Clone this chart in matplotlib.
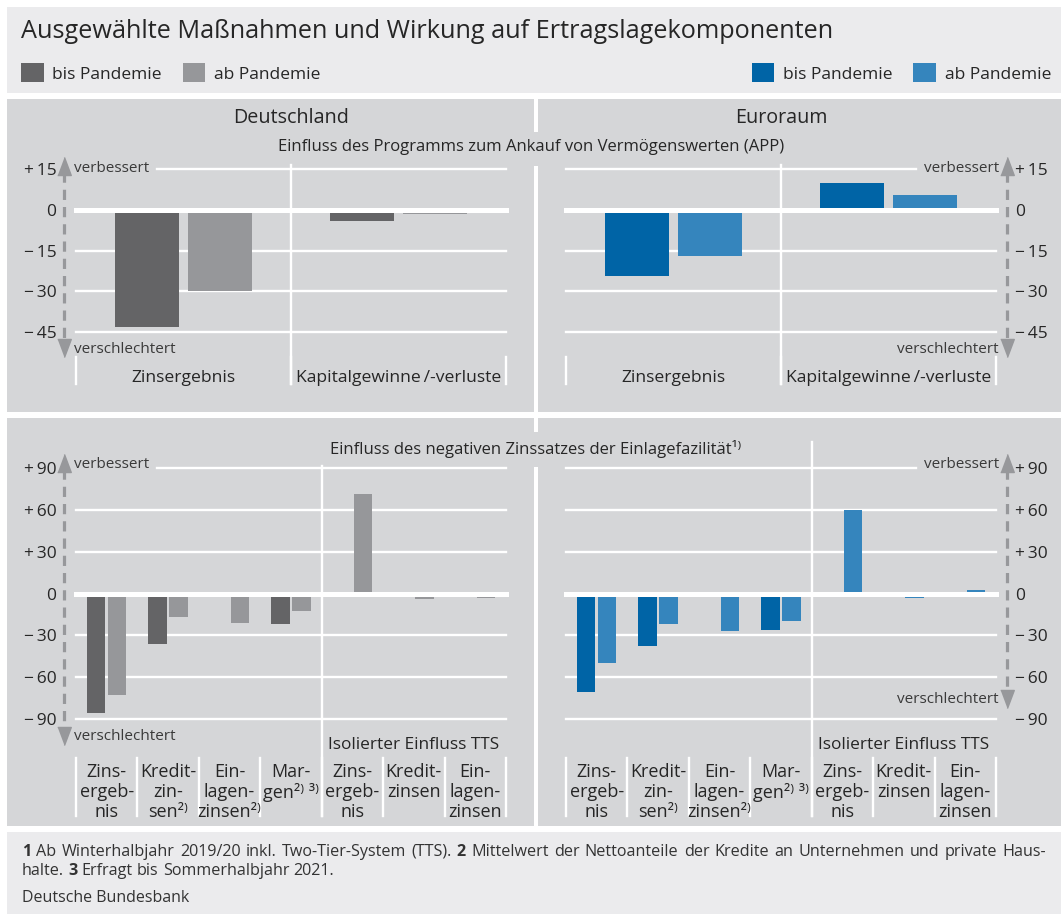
import numpy as np
import matplotlib
matplotlib.use("Agg")
import matplotlib.pyplot as plt
from matplotlib.patches import Rectangle

W, H = 1061, 914                  # px  - target size
DPI = 100

plt.rcParams['font.family'] = ['Open Sans', 'DejaVu Sans']

# colours
DARK_GREY = '#646466'
LIGHT_GREY = '#96979a'
DARK_BLUE = '#0064a6'
LIGHT_BLUE = '#3585bd'
PANEL_BG = '#d5d6d8'
HEAD_BG = '#ebebed'
TEXT = '#262626'
ARROW = '#97989b'

# ---- data: APP (top panels)
app_categories = ['Zinsergebnis', 'Kapitalgewinne\u2009/-verluste']
de_app_bis = [-43, -4]
de_app_ab = [-30, -1.5]
ea_app_bis = [-24.5, 10]
ea_app_ab = [-17, 5.5]
app_ticks = [15, 0, -15, -30, -45]
app_ticklabels = ['+\u200915', '0', '\u2212\u200915', '\u2212\u200930', '\u2212\u200945']

# ---- data: negativer Einlagesatz (bottom panels)
zins_categories = ['Zins-\nergeb-\nnis', 'Kredit-\nzin-\nsen\u00b2\u207e', 'Ein-\nlagen-\nzinsen\u00b2\u207e',
                   'Mar-\ngen\u00b2\u207e \u00b3\u207e\n ', 'Zins-\nergeb-\nnis', 'Kredit-\nzinsen\n ',
                   'Ein-\nlagen-\nzinsen']
de_zins_bis = [-86, -36, np.nan, -22, np.nan, np.nan, np.nan]
de_zins_ab = [-73, -17, -21, -12.5, 71, -4, -3]
ea_zins_bis = [-70.5, -37.5, np.nan, -26, np.nan, np.nan, np.nan]
ea_zins_ab = [-50, -22, -27, -19.5, 60, -3, 2.2]
zins_ticks = [90, 60, 30, 0, -30, -60, -90]
zins_ticklabels = ['+\u200990', '+\u200960', '+\u200930', '0', '\u2212\u200930', '\u2212\u200960', '\u2212\u200990']

BAR_W = 0.3
OFFS = 0.17

fig = plt.figure(figsize=(W / DPI, H / DPI), dpi=DPI)
fig.patch.set_facecolor('white')


def box(x0, y0, x1, y1):
    # pixel box (top-left origin) -> figure fraction rect
    return [x0 / W, 1 - y1 / H, (x1 - x0) / W, (y1 - y0) / H]


# background blocks, pixel coordinates
under = fig.add_axes([0, 0, 1, 1], zorder=-5)
under.axis('off')
under.set_xlim(0, W)
under.set_ylim(H, 0)
for (x0, y0, x1, y1, c) in [(7, 7, W, 93, HEAD_BG),
                            (7, 99, 534, 412, PANEL_BG), (538, 99, W, 412, PANEL_BG),
                            (530, 132, 542, 166, PANEL_BG),
                            (7, 418, 534, 826, PANEL_BG), (538, 418, W, 826, PANEL_BG),
                            (530, 432, 542, 467, PANEL_BG),
                            (7, 832, W, H, HEAD_BG)]:
    under.add_patch(Rectangle((x0, y0), x1 - x0, y1 - y0, color=c, lw=0))


def panel(ax, cats, bis, ab, c_bis, c_ab, ticks, ticklabels, right, top_gap,
          arrow_y, verb_y, versch_y, sep_y, cat_sep_y, pad_x, cat_size, cat_ls):
    n = len(cats)
    x = np.arange(n)
    ax.set_facecolor('none')
    for s in ax.spines.values():
        s.set_visible(False)
    ax.set_xlim(-0.5, n - 0.5)
    ax.set_ylim(ticks[-1], ticks[0])

    # grid
    for t in ticks:
        if t == 0:
            ax.axhline(0, color='white', lw=3.6, zorder=3, clip_on=False)
        elif t == ticks[0]:
            if right:
                ax.axhline(t, xmax=top_gap, color='white', lw=1.7, zorder=1, clip_on=False)
            else:
                ax.axhline(t, xmin=top_gap, color='white', lw=1.7, zorder=1, clip_on=False)
        else:
            ax.axhline(t, color='white', lw=1.7, zorder=1, clip_on=False)

    b1 = ax.bar(x - OFFS, bis, BAR_W, color=c_bis, zorder=2)
    b2 = ax.bar(x + OFFS, ab, BAR_W, color=c_ab, zorder=2)

    # separators
    mid = sep_y[2]
    ax.plot([mid, mid], sep_y[:2], color='white', lw=1.7, clip_on=False, zorder=1)
    for xb in np.arange(n + 1) - 0.5:
        ax.plot([xb, xb], cat_sep_y, color='white', lw=1.7, clip_on=False, zorder=1)

    # y ticks
    ax.set_yticks(ticks, ticklabels)
    if right:
        ax.yaxis.tick_right()
    ax.tick_params(axis='y', length=0, pad=14, labelsize=12.5, labelcolor=TEXT)
    ax.set_xticks(x, cats)
    ax.tick_params(axis='x', length=0, pad=pad_x, labelsize=cat_size, labelcolor=TEXT)
    for lab in ax.get_xticklabels():
        lab.set_linespacing(cat_ls)

    # dashed arrow verbessert / verschlechtert
    trans = ax.get_yaxis_transform()
    xa = 1.025 if right else -0.028
    tip_top, base_top, base_bot, tip_bot = arrow_y
    ax.plot([xa, xa], [base_top, base_bot], color=ARROW, lw=2.3, ls=(0, (3.2, 2.2)),
            transform=trans, clip_on=False)
    tri = [(-0.75, -1), (0.75, -1), (0, 1)]
    ax.plot(xa, (tip_top + base_top) / 2, marker=tri, ms=13, color=ARROW, transform=trans, clip_on=False)
    ax.plot(xa, (tip_bot + base_bot) / 2, marker=[(-0.75, 1), (0.75, 1), (0, -1)], ms=13,
            color=ARROW, transform=trans, clip_on=False)
    xt = 1.007 if right else -0.005
    ha = 'right' if right else 'left'
    ax.text(xt, verb_y, 'verbessert', transform=trans, ha=ha, va='center', fontsize=11, color='#3a3a3a')
    ax.text(xt, versch_y, 'verschlechtert', transform=trans, ha=ha, va='center', fontsize=11, color='#3a3a3a')
    return b1, b2


# top panels: 2.71 px per unit, +15 at y=169
ax_tl = fig.add_axes(box(76, 169, 506, 332))
ax_tr = fig.add_axes(box(566, 169, 996, 332))
# bottom panels: 1.394 px per unit, +90 at y=468
ax_bl = fig.add_axes(box(76, 468, 506, 719))
ax_br = fig.add_axes(box(566, 468, 996, 719))

leg_de = panel(ax_tl, app_categories, de_app_bis, de_app_ab, DARK_GREY, LIGHT_GREY,
               app_ticks, app_ticklabels, False, 0.188,
               (18.3, 14.0, -48.5, -53.2), 15.2, -51.6, (16.5, -64.2, 0.5), (-54.2, -64.2), 27, 12.6, 1.2)
leg_ea = panel(ax_tr, app_categories, ea_app_bis, ea_app_ab, DARK_BLUE, LIGHT_BLUE,
               app_ticks, app_ticklabels, True, 0.814,
               (18.3, 14.0, -48.5, -53.2), 15.2, -51.6, (16.5, -64.2, 0.5), (-54.2, -64.2), 27, 12.6, 1.2)
panel(ax_bl, zins_categories, de_zins_bis, de_zins_ab, DARK_GREY, LIGHT_GREY,
      zins_ticks, zins_ticklabels, False, 0.188,
      (97.5, 89, -98, -106.5), 92.2, -102.9, (91.4, -159.6, 3.5), (-118, -159.6), 32, 13, 1.12)
panel(ax_br, zins_categories, ea_zins_bis, ea_zins_ab, DARK_BLUE, LIGHT_BLUE,
      zins_ticks, zins_ticklabels, True, 0.814,
      (97.5, 89, -71.5, -80), 92.2, -75.7, (108.9, -159.6, 3.5), (-118, -159.6), 32, 13, 1.12)

for ax in (ax_bl, ax_br):
    ax.text(5, -108.7, 'Isolierter Einfluss TTS', ha='center', va='center', fontsize=12.4, color=TEXT)

# legends
leg_kw = dict(ncol=2, frameon=False, fontsize=12.5, handlelength=1.3, handleheight=1.25, handletextpad=0.5,
              columnspacing=1.2, borderpad=0, borderaxespad=0, labelcolor=TEXT)
fig.legend(leg_de, ['bis Pandemie', 'ab Pandemie'], loc='center left', bbox_to_anchor=(21 / W, 1 - 73 / H), **leg_kw)
fig.legend(leg_ea, ['bis Pandemie', 'ab Pandemie'], loc='center right', bbox_to_anchor=(1051 / W, 1 - 73 / H), **leg_kw)

# texts in pixel coordinates
ov = fig.add_axes([0, 0, 1, 1], zorder=5)
ov.axis('off')
ov.set_xlim(0, W)
ov.set_ylim(H, 0)

ov.text(21, 32, 'Ausgewählte Maßnahmen und Wirkung auf Ertragslagekomponenten', fontsize=18.2,
        va='center', ha='left', color=TEXT)
ov.text(291, 118, 'Deutschland', fontsize=14.2, ha='center', va='center', color=TEXT)
ov.text(781, 118, 'Euroraum', fontsize=14.2, ha='center', va='center', color=TEXT)
ov.text(531, 147, 'Einfluss des Programms zum Ankauf von Vermögenswerten (APP)', fontsize=12,
        ha='center', va='center', color=TEXT)
ov.text(536, 449, 'Einfluss des negativen Zinssatzes der Einlagefazilität\u00b9\u207e', fontsize=12,
        ha='center', va='center', color=TEXT)

# footnotes: first line justified between x0 and x1
renderer = fig.canvas.get_renderer()
FOOT_SIZE = 11.6


def foot_line(x0, y, words, x1=None, size=FOOT_SIZE):
    arts = []
    for txt, bold in words:
        arts.append(ov.text(0, y, txt, fontsize=size, weight='bold' if bold else 'normal',
                            va='center', ha='left', color='#333333'))
    widths = [a.get_window_extent(renderer).width for a in arts]
    t_sp = ov.text(0, y, 'a a', fontsize=size)
    t_no = ov.text(0, y, 'aa', fontsize=size)
    space = t_sp.get_window_extent(renderer).width - t_no.get_window_extent(renderer).width
    t_sp.remove()
    t_no.remove()
    gap = space if x1 is None else (x1 - x0 - sum(widths)) / (len(arts) - 1)
    x = x0
    for a, w in zip(arts, widths):
        a.set_x(x)
        x += w + gap


line1 = [('1', True)] + [(w, False) for w in 'Ab Winterhalbjahr 2019/20 inkl. Two-Tier-System (TTS).'.split()] + \
        [('2', True)] + [(w, False) for w in 'Mittelwert der Nettoanteile der Kredite an Unternehmen und private Haus-'.split()]
line2 = [('halte.', False), ('3', True)] + [(w, False) for w in 'Erfragt bis Sommerhalbjahr 2021.'.split()]
foot_line(22, 852, line1, x1=1046)
foot_line(22, 871, line2)
ov.text(22, 898, 'Deutsche Bundesbank', fontsize=11.5, va='center', ha='left', color='#333333')

fig.savefig('out.png', dpi=DPI)
